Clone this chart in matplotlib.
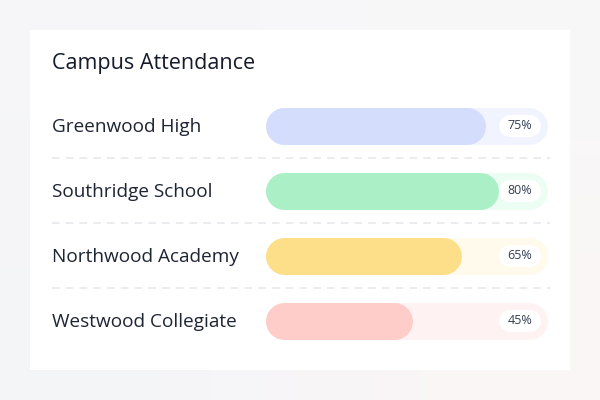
import matplotlib.pyplot as plt
import numpy as np
from matplotlib.patches import Rectangle
from matplotlib.transforms import blended_transform_factory

schools = ["Greenwood High", "Southridge School", "Northwood Academy", "Westwood Collegiate"]
attendance = [75, 80, 65, 45]
fill_colors = ["#d4ddfc", "#abefc6", "#fedf89", "#fecdca"]
track_colors = ["#f1f4fe", "#ecfdf3", "#fffaeb", "#fef3f2"]

W, H = 600, 400
plt.rcParams['font.family'] = ['Open Sans', 'DejaVu Sans']

fig = plt.figure(figsize=(6, 4), dpi=100)

# soft page background + white card
bg = fig.add_axes([0, 0, 1, 1])
grad = np.array([[[0.965, 0.965, 0.975], [0.975, 0.970, 0.972]],
                 [[0.960, 0.962, 0.972], [0.982, 0.965, 0.965]]])
bg.imshow(grad, extent=[0, 1, 0, 1], aspect='auto', interpolation='bilinear')
bg.add_patch(Rectangle((30 / W, 30 / H), 540 / W, 340 / H, transform=fig.transFigure,
                       facecolor='white', edgecolor='none', zorder=2))
bg.set_xlim(0, 1)
bg.set_ylim(0, 1)
bg.axis('off')

fig.text(52 / W, 1 - 64 / H, "Campus Attendance", fontsize=15.5, fontweight='medium',
         color='#151b2b', va='center', ha='left')

ax = fig.add_axes([283.5 / W, 47 / H, 245 / W, 260 / H])
ax.set_xlim(0, 100)
ax.set_ylim(3.5, -0.5)
ax.axis('off')
ax.patch.set_alpha(0)
tr = blended_transform_factory(fig.transFigure, ax.transData)

bar_lw = 37 * 72 / 100
pill_lw = 22 * 72 / 100

for i, (name, val) in enumerate(zip(schools, attendance)):
    ax.plot([0, 100], [i, i], color=track_colors[i], lw=bar_lw,
            solid_capstyle='round', clip_on=False, zorder=1)
    ax.plot([0, val], [i, i], color=fill_colors[i], lw=bar_lw,
            solid_capstyle='round', clip_on=False, zorder=2)
    ax.plot([510 / W, 530 / W], [i, i], transform=tr, color='white', lw=pill_lw,
            solid_capstyle='round', clip_on=False, zorder=3)
    ax.text(520 / W, i, f"{val}%", transform=tr, ha='center', va='center',
            fontsize=9, color='#344054', zorder=4)
    ax.text(52 / W, i + 0.02, name, transform=tr, ha='left', va='center',
            fontsize=13.7, color='#1d2433')
    if i < len(schools) - 1:
        ax.plot([52 / W, 550 / W], [i + 0.5, i + 0.5], transform=tr, color='#e4e7ec',
                lw=1.1, linestyle=(0, (5, 4)), clip_on=False)

fig.savefig("out.png", dpi=100)
